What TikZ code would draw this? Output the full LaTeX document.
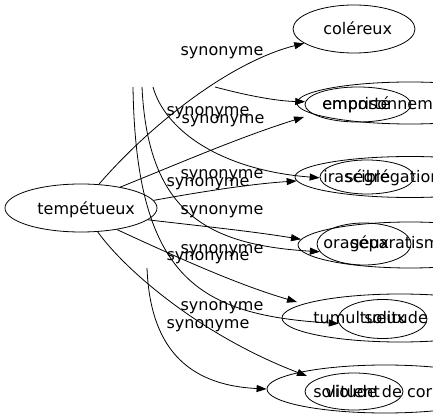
\documentclass[tikz,border=0pt]{standalone}
\usepackage{fontspec}
\setmainfont{DejaVu Sans}
\usetikzlibrary{shapes.geometric, arrows.meta}
\begin{document}
\begin{tikzpicture}[x=1pt, y=-1pt, line width=0.8pt,
  font=\fontsize{16}{19}\selectfont,
  ell/.style={draw, ellipse, inner sep=0pt},
  word/.style={anchor=base west, inner sep=0pt},
  syn/.style={inner sep=0pt},
  arr/.style={-{Triangle[length=10pt, width=7pt]}}]
\useasboundingbox (0,0) rectangle (433,419);
\clip (0,0) rectangle (433,419);
\node[ell, minimum width=152pt, minimum height=48pt] (tempetueux) at (81,208) {};
\node[ell, minimum width=122pt, minimum height=48pt] (colereux) at (354,29) {};
\node[ell, minimum width=226pt, minimum height=42pt] (emprisonnement) at (410,103) {};
\node[ell, minimum width=106pt, minimum height=35pt] (emporte) at (358,104.5) {};
\node[ell, minimum width=230pt, minimum height=41pt] (segregation) at (410,177) {};
\node[ell, minimum width=94pt, minimum height=34pt] (irascible) at (367,177) {};
\node[ell, minimum width=224pt, minimum height=46pt] (separatisme) at (410,245) {};
\node[ell, minimum width=94pt, minimum height=42pt] (orageux) at (364,244) {};
\node[ell, minimum width=236pt, minimum height=48pt] (tumultueux) at (400,318) {};
\node[ell, minimum width=89pt, minimum height=39pt] (solitude) at (382.5,319) {};
\node[ell, minimum width=236pt, minimum height=48pt] (solitudecorps) at (385,389) {};
\node[ell, minimum width=98pt, minimum height=37pt] (violent) at (354,391.5) {};

\node[word] (w-tempetueux) at (37,215) {tempétueux};
\node[word] (w-colereux) at (323,35) {coléreux};
\node[word] (w-emprisonnement) at (322,110) {emprisonnement};
\node[word] (w-emporte) at (322,110) {emporté};
\node[word] (w-irascible) at (323,183) {irascible};
\node[word] (w-segregation) at (345,183) {ségrégation};
\node[word] (w-orageux) at (323,249) {orageux};
\node[word] (w-separatisme) at (350,249) {séparatisme};
\node[word] (w-tumultueux) at (313,323) {tumultueux};
\node[word] (w-solitude) at (364,323) {solitude};
\node[word] (w-solitudecorps) at (313,397) {solitude de corps};
\node[word] (w-violent) at (325,397) {violent};

\coordinate (cut1) at (133,87); \coordinate (cut2) at (142,87);
\coordinate (cut3) at (153,87); \coordinate (cut4) at (215,87);
\coordinate (cut5) at (147,268);
\coordinate (in-emprisonnement) at (304,117);
\coordinate (in-tumultueux) at (297,302);
\coordinate (in-violent) at (307,376);

\draw[arr] (tempetueux.53) .. controls (150,125) and (230,62) .. (colereux.196);
\draw[arr] (tempetueux.28) .. controls (180,163) and (240,137) .. (in-emprisonnement);
\draw[arr] (tempetueux.6) .. controls (200,192) and (250,184) .. (segregation.182);
\draw[arr] (tempetueux.-10) .. controls (200,226) and (250,231) .. (separatisme.177);
\draw[arr] (tempetueux.-31) .. controls (170,254) and (235,284) .. (in-tumultueux);
\draw[arr] (tempetueux.-55) .. controls (125,270) and (200,335) .. (in-violent);
\draw[arr] (cut4) .. controls (245,95) and (275,101) .. (emporte.177);
\draw[arr] (cut3) .. controls (165,130) and (220,170) .. (irascible.181);
\draw[arr] (cut2) .. controls (148,215) and (210,245) .. (orageux.190);
\draw[arr] (cut1) .. controls (136,280) and (200,315) .. (solitude.186);
\draw[arr] (cut5) .. controls (150,345) and (185,385) .. (solitudecorps.180);

\node[syn] (s1) at (222,53) {synonyme};
\node[syn] (s2) at (208,113) {synonyme};
\node[syn] (s3) at (223,121) {synonyme};
\node[syn] (s4) at (222,176) {synonyme};
\node[syn] (s5) at (208,184) {synonyme};
\node[syn] (s6) at (222,212) {synonyme};
\node[syn] (s7) at (222,251) {synonyme};
\node[syn] (s8) at (208,258) {synonyme};
\node[syn] (s9) at (222,308) {synonyme};
\node[syn] (s10) at (208,326) {synonyme};
\end{tikzpicture}
\end{document}
